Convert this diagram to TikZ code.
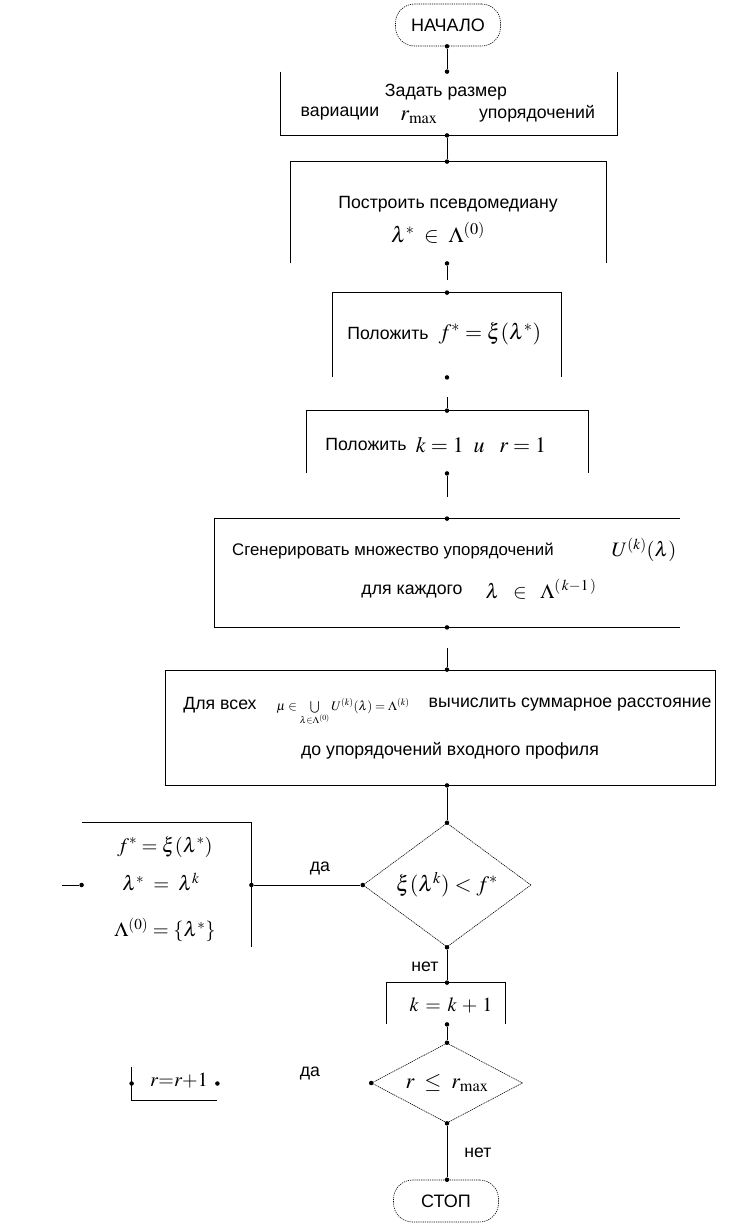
\documentclass[tikz,border=0pt]{standalone}
\usepackage{mathptmx}
\usepackage[no-math]{fontspec}
\setmainfont{Liberation Sans}
\usetikzlibrary{shapes.geometric}
\begin{document}
\begin{tikzpicture}[x=1pt, y=-1pt, line width=0.8pt,
  every node/.style={font=\fontsize{17.7}{20}\selectfont},
  term/.style={draw, rounded corners=19pt, line width=0.6pt, dash pattern=on 1.2pt off 1pt, minimum width=105pt, minimum height=42pt, inner sep=0pt, font=\fontsize{18}{20}\selectfont},
  frame/.style={inner sep=0pt},
  cond/.style={draw, diamond, line width=0.6pt, dash pattern=on 1.2pt off 0.8pt, inner sep=0pt, font=\fontsize{22}{26}\selectfont},
  pt/.style={circle, fill, inner sep=0pt, minimum size=4.5pt},
  m/.style={font=\fontsize{22}{26}\selectfont},
  ms/.style={font=\fontsize{20.5}{24}\selectfont}]
\useasboundingbox (0,0) rectangle (733,1224);
\coordinate (ax) at (447,0);

\node[term] (start) at (448,25) {НАЧАЛО};
\node[pt] (s0) at (start.south -| ax) {};

\node[frame, minimum width=336pt, minimum height=63pt] (b1) at (449,103.5) {};
\draw (b1.north west) -- (b1.south west) -- (b1.south east) -- (b1.north east);
\node[pt] (b1t) at (b1.north -| ax) {};
\node[pt] (b1b) at (b1.south -| ax) {};
\node at (446,92) {Задать размер};
\node at (340,114) {вариации};
\node[m] at (419,117) {$r_{\max}$};
\node at (537,114) {упорядочений};

\node[frame, minimum width=315pt, minimum height=101pt] (b2) at (448.5,212.5) {};
\draw (b2.south west) -- (b2.north west) -- (b2.north east) -- (b2.south east);
\node[pt] (b2t) at (b2.north -| ax) {};
\node[pt] (b2b) at (b2.south -| ax) {};
\node at (448,204) {Построить псевдомедиану};
\node[m] at (438,233) {$\lambda^{*} \;\in\; \Lambda^{(0)}$};
\coordinate (c1) at (447,280);

\node[frame, minimum width=228pt, minimum height=84pt] (b3) at (447,335) {};
\draw (b3.south west) -- (b3.north west) -- (b3.north east) -- (b3.south east);
\node[pt] (b3t) at (b3.north -| ax) {};
\node[pt] (b3b) at (b3.south -| ax) {};
\node at (388,333) {Положить};
\node[m] at (490,334) {$f^{*} = \xi(\lambda^{*})$};
\coordinate (c2) at (447,397);

\node[frame, minimum width=281pt, minimum height=62pt] (b4) at (447.5,442) {};
\draw (b4.south west) -- (b4.north west) -- (b4.north east) -- (b4.south east);
\node[pt] (b4t) at (b4.north -| ax) {};
\node[pt] (b4b) at (b4.south -| ax) {};
\node at (366,444) {Положить};
\node[m] at (481,445) {$k=1\;\;u\;\;\;r=1$};
\coordinate (c3) at (447,497);

\node[frame, minimum width=465pt, minimum height=108pt] (b5) at (447.5,573) {};
\draw (b5.north east) -- (b5.north west) -- (b5.south west) -- (b5.south east);
\node[pt] (b5t) at (b5.north -| ax) {};
\node[pt] (b5b) at (b5.south -| ax) {};
\node[font=\fontsize{16.8}{20}\selectfont] at (393,551) {Сгенерировать множество упорядочений};
\node[ms] at (644,550) {$U^{(k)}(\lambda)$};
\node at (412,591) {для каждого};
\node[ms] at (541,589) {$\lambda \;\;\in\;\; \Lambda^{(\,k-1\,)}$};
\coordinate (c4) at (447,648);

\node[frame, draw, minimum width=550pt, minimum height=115pt] (b6) at (440,727.5) {};
\node[pt] (b6t) at (b6.north -| ax) {};
\node[pt] (b6b) at (b6.south -| ax) {};
\node at (220,705) {Для всех};
\node[font=\fontsize{13}{15}\selectfont] at (343,712) {$\mu\in\bigcup\limits_{\lambda\in\Lambda^{(0)}}U^{(k)}(\lambda)=\Lambda^{(k)}$};
\node at (570,705) {вычислить суммарное расстояние};
\node at (450,751) {до упорядочений входного профиля};

\node[cond, aspect=1.35, minimum width=168pt, minimum height=124pt] (d1) at (447,885) {$\xi(\lambda^{k}) < f^{*}$};
\node[pt] (d1t) at (d1.north) {};
\node[pt] (d1w) at (d1.west) {};
\node[pt] (d1s) at (d1.south) {};
\node at (320,868) {да};
\node at (425,967) {нет};

\node[frame, minimum width=169pt, minimum height=124pt] (L) at (166.5,885) {};
\draw (L.north west) -- (L.north east) -- (L.south east);
\node[pt] (Lr) at (L.east) {};
\node[pt] (Ll) at (L.west) {};
\coordinate (c5) at (62,885);
\node[ms] at (165,847) {$f^{*} = \xi(\lambda^{*})$};
\node[ms] at (161,882) {$\lambda^{*} \;=\; \lambda^{k}$};
\node[ms] at (165,930) {$\Lambda^{(0)} = \{\lambda^{*}\}$};

\node[frame, minimum width=118pt, minimum height=41pt] (b7) at (446,1003.5) {};
\draw (b7.south west) -- (b7.north west) -- (b7.north east) -- (b7.south east);
\node[pt] (b7t) at (b7.north -| ax) {};
\node[pt] (b7b) at (b7.south -| ax) {};
\node[font=\fontsize{20}{24}\selectfont] at (451,1005) {$k \,=\, k \,+\, 1$};

\node[cond, aspect=1.9, minimum width=151pt, minimum height=80pt] (d2) at (447,1083) {$r \;\le\; r_{\max}$};
\node[pt] (d2t) at (d2.north) {};
\node[pt] (d2w) at (d2.west) {};
\node[pt] (d2s) at (d2.south) {};
\node at (310,1073) {да};
\node at (478,1153) {нет};

\node[frame, minimum width=85pt, minimum height=33pt] (R) at (174.5,1083.5) {};
\draw (R.north west) -- (R.south west) -- (R.south east);
\node[pt] (Rl) at (R.west) {};
\node[pt] (Rr) at (R.east) {};
\node[font=\fontsize{20}{24}\selectfont] at (179,1081) {$r{=}r{+}1$};

\node[term] (stop) at (446,1201) {СТОП};
\node[pt] (st0) at (stop.north -| ax) {};

\draw (s0) -- (b1t);
\draw (b1b) -- (b2t);
\draw (b2b) -- (c1);
\draw (c2) -- (b4t);
\draw (b4b) -- (c3);
\draw (c4) -- (b6t);
\draw (b6b) -- (d1t);
\draw (d1w) -- (Lr);
\draw (c5) -- (Ll);
\draw (d1s) -- (b7t);
\draw (b7b) -- (d2t);
\draw (d2s) -- (st0);
\end{tikzpicture}
\end{document}
